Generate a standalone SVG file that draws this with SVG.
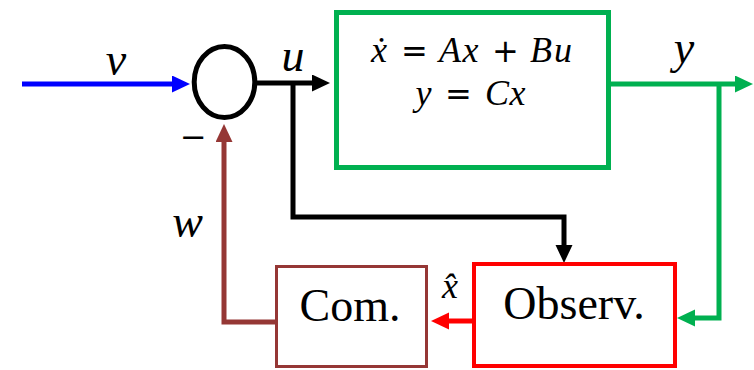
<svg xmlns="http://www.w3.org/2000/svg" width="754" height="370" viewBox="0 0 754 370">
<style>
.ln{fill:none;stroke-width:5;stroke-linejoin:miter}
.eq{font-family:"Liberation Serif","Times New Roman",serif;font-style:italic;font-size:36px;text-anchor:middle;fill:#000}
.lab{font-family:"Liberation Serif","Times New Roman",serif;font-style:italic;font-size:46px;text-anchor:middle;fill:#000}
.hat{font-family:"Liberation Serif","Times New Roman",serif;font-style:italic;font-size:36px;text-anchor:middle;fill:#000}
.op{font-family:"DejaVu Sans","Liberation Sans",sans-serif;font-size:32px;text-anchor:middle;fill:#000}
.blk{font-family:"Liberation Serif","Times New Roman",serif;font-size:46px;text-anchor:middle;fill:#000}
</style>
<defs>
<marker id="ab" markerUnits="userSpaceOnUse" markerWidth="18" markerHeight="18" refX="0" refY="8.5" orient="auto"><path d="M0,0 L18,8.5 L0,17 z" fill="#0000FF"/></marker>
<marker id="ak" markerUnits="userSpaceOnUse" markerWidth="18" markerHeight="18" refX="0" refY="8.5" orient="auto"><path d="M0,0 L18,8.5 L0,17 z" fill="#000"/></marker>
<marker id="ag" markerUnits="userSpaceOnUse" markerWidth="18" markerHeight="18" refX="0" refY="8.5" orient="auto"><path d="M0,0 L18,8.5 L0,17 z" fill="#00B050"/></marker>
<marker id="ar" markerUnits="userSpaceOnUse" markerWidth="18" markerHeight="18" refX="0" refY="8.5" orient="auto"><path d="M0,0 L18,8.5 L0,17 z" fill="#FF0000"/></marker>
<marker id="an" markerUnits="userSpaceOnUse" markerWidth="18" markerHeight="18" refX="0" refY="8.5" orient="auto"><path d="M0,0 L18,8.5 L0,17 z" fill="#953735"/></marker>
</defs>
<rect width="754" height="370" fill="#fff"/>
<g id="connectors">
<path class="ln" d="M22,84 H172" stroke="#0000FF" marker-end="url(#ab)"/>
<path class="ln" d="M257,83 H312" stroke="#000" marker-end="url(#ak)"/>
<path class="ln" d="M293,83 V217 H564 V245" stroke="#000" marker-end="url(#ak)"/>
<path class="ln" d="M611,84 H735" stroke="#00B050" marker-end="url(#ag)"/>
<path class="ln" d="M719,84 V318 H695" stroke="#00B050" marker-end="url(#ag)"/>
<path class="ln" d="M472,321 H449" stroke="#FF0000" marker-end="url(#ar)"/>
<path class="ln" d="M275,322 H224 V142" stroke="#953735" marker-end="url(#an)"/>
</g>
<g id="sum">
<ellipse cx="224.5" cy="82" rx="30.3" ry="35.5" fill="none" stroke="#000" stroke-width="5"/>
<text class="op" x="193.5" y="148">−</text>
</g>
<g id="plant">
<rect x="336.5" y="12.5" width="272" height="155" fill="none" stroke="#00B050" stroke-width="5"/>
<text class="eq" y="62"><tspan x="379">ẋ</tspan><tspan x="450">A</tspan><tspan x="470.5">x</tspan><tspan x="541">B</tspan><tspan x="563">u</tspan></text>
<text class="op" y="62"><tspan x="414.5">=</tspan><tspan x="505.5">+</tspan></text>
<text class="eq" y="105"><tspan x="423.5">y</tspan><tspan x="497">C</tspan><tspan x="517.5">x</tspan></text>
<text class="op" y="105"><tspan x="458.5">=</tspan></text>
</g>
<g id="observer">
<rect x="474" y="264" width="201" height="102" fill="none" stroke="#FF0000" stroke-width="4"/>
<text class="blk" x="574" y="319">Observ.</text>
</g>
<g id="compensator">
<rect x="276.5" y="266.5" width="150" height="100" fill="none" stroke="#953735" stroke-width="3"/>
<text class="blk" x="350" y="321">Com.</text>
</g>
<g id="labels">
<text class="lab" x="116" y="75">v</text>
<text class="lab" x="293" y="71">u</text>
<text class="lab" x="684" y="63">y</text>
<text class="lab" x="187.5" y="237">w</text>
<text class="hat" x="450" y="298">x̂</text>
</g>
</svg>
